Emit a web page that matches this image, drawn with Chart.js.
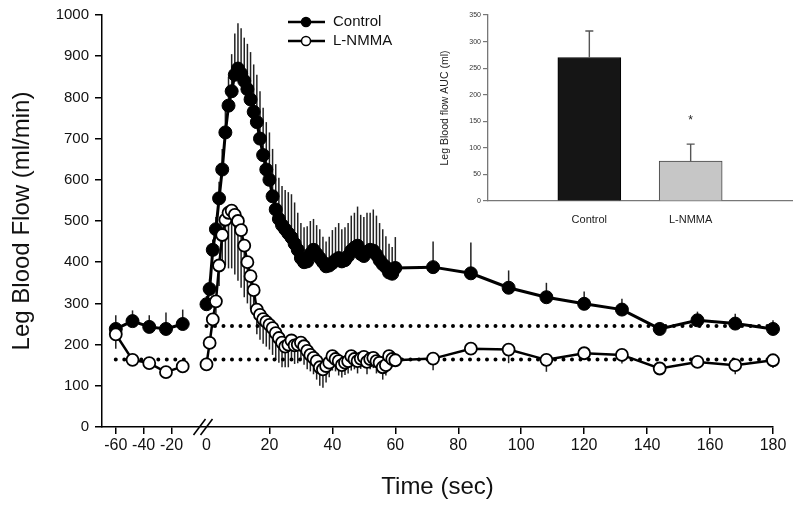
<!DOCTYPE html>
<html>
<head>
<meta charset="utf-8">
<script src="https://cdn.jsdelivr.net/npm/chart.js@4.4.0/dist/chart.umd.min.js"></script>
<style>
  html, body { margin: 0; padding: 0; background: #fff; }
  #wrap { position: relative; width: 800px; height: 506px; }
  #mainChart { position: absolute; left: 0; top: 0; }
  #aucChart { position: absolute; left: 430px; top: 0; }
</style>
</head>
<body>
<div id="wrap">
  <canvas id="mainChart" width="800" height="506"></canvas>
  <canvas id="aucChart" width="370" height="225"></canvas>
</div>
<script>
// time points (sec)
const preTimes = [-60, -48, -36, -24, -12];
const postTimes = [0, 1, 2, 3, 4, 5, 6, 7, 8, 9,
  10, 11, 12, 13, 14, 15, 16, 17, 18, 19,
  20, 21, 22, 23, 24, 25, 26, 27, 28, 29,
  30, 31, 32, 33, 34, 35, 36, 37, 38, 39,
  40, 41, 42, 43, 44, 45, 46, 47, 48, 49,
  50, 51, 52, 53, 54, 55, 56, 57, 58, 59,
  60, 72, 84, 96, 108, 120, 132, 144, 156, 168, 180];

// leg blood flow (ml/min)
const controlPre = [238, 257, 243, 238, 250];
const controlPreSE = [33, 26, 28, 40, 35];
const lnmmaPre = [225, 163, 155, 133, 147];
const lnmmaPreSE = [35, 12, 10, 8, 10];

const controlPost = [298, 335, 430, 480, 555, 625, 715, 780, 815, 855,
  870, 858, 840, 820, 795, 765, 740, 700, 660, 625,
  600, 560, 528, 505, 490, 480, 470, 460, 445, 430,
  410, 400, 402, 420, 430, 420, 410, 400, 390, 392,
  398, 405, 410, 402, 405, 415, 428, 435, 440, 420,
  415, 425, 430, 428, 418, 405, 395, 388, 375, 372,
  386, 388, 373, 338, 315, 299, 285, 238, 259, 251, 238];
const controlPostSE = [20, 25, 25, 30, 40, 50, 60, 70, 90, 100,
  110, 110, 105, 110, 115, 115, 115, 115, 115, 115,
  115, 115, 110, 100, 95, 95, 100, 105, 100, 90,
  85, 85, 85, 80, 75, 70, 70, 62, 60, 70,
  80, 80, 85, 78, 80, 80, 85, 85, 95, 95,
  95, 95, 90, 100, 95, 90, 85, 75, 70, 65,
  75, 62, 75, 42, 35, 30, 26, 16, 21, 24, 21];

const lnmmaPost = [152, 204, 261, 305, 392, 466, 503, 520, 525, 515,
  500, 478, 440, 400, 366, 332, 285, 272, 262, 255,
  248, 240, 228, 216, 205, 195, 200, 210, 198, 200,
  205, 196, 185, 175, 168, 160, 145, 140, 148, 156,
  172, 165, 160, 150, 156, 160, 172, 165, 160, 166,
  170, 158, 165, 168, 160, 156, 145, 150, 172, 165,
  162, 166, 190, 188, 163, 179, 175, 142, 158, 150, 162];
const lnmmaPostSE = [5, 10, 20, 30, 50, 80, 110, 135, 140, 145,
  145, 140, 125, 100, 80, 60, 60, 60, 60, 60,
  60, 65, 65, 60, 60, 50, 55, 50, 45, 45,
  40, 45, 45, 40, 40, 45, 45, 45, 40, 35,
  35, 30, 35, 30, 30, 30, 35, 25, 30, 25,
  25, 30, 25, 25, 30, 25, 30, 25, 35, 20,
  15, 28, 8, 33, 29, 8, 21, 5, 8, 22, 19];

const controlBaseline = 245;
const lnmmaBaseline = 164;
const xTickLabels = [-60, -40, -20, 0, 20, 40, 60, 80, 100, 120, 140, 160, 180];

// inset: area under the curve
const aucLabels = ['Control', 'L-NMMA'];
const aucValues = [270, 75];
const aucErrors = [50, 32];
const aucMarks = ['', '*'];

Chart.defaults.font.family = "'Liberation Sans', Arial, sans-serif";
Chart.defaults.color = '#111';

// the baseline period is drawn on a compressed time scale left of the break
const preScale = 0.443, preShift = -2.24;
const xMap = (t) => (t >= 0 ? t : preShift + preScale * t);

const buildSeries = (pre, post) =>
  preTimes.map((t, i) => ({ x: xMap(t), y: pre[i] }))
    .concat([{ x: xMap(-6), y: null }])
    .concat(postTimes.map((t, i) => ({ x: xMap(t), y: post[i] })));

const buildErrors = (pre, post) => pre.concat([null]).concat(post);

const drawErrorBars = (chart, layer) => {
  const ctx = chart.ctx;
  chart.data.datasets.forEach((ds, i) => {
    if (!ds.errorBars || (ds.errorLayer || 'back') !== layer) return;
    const meta = chart.getDatasetMeta(i);
    const yScale = chart.scales[meta.yAxisID];
    const values = ds.data.map(d => (d !== null && typeof d === 'object') ? d.y : d);
    ctx.save();
    ctx.strokeStyle = ds.errorColor || '#222';
    ctx.lineWidth = ds.errorWidth || 1.5;
    meta.data.forEach((el, j) => {
      const v = values[j];
      const e = ds.errorBars[j];
      if (v === null || v === undefined || !e) return;
      const yEnd = yScale.getPixelForValue(v + ds.errorDir * e);
      ctx.beginPath();
      ctx.moveTo(el.x, el.y);
      ctx.lineTo(el.x, yEnd);
      if (ds.errorCap) {
        ctx.moveTo(el.x - ds.errorCap, yEnd);
        ctx.lineTo(el.x + ds.errorCap, yEnd);
      }
      ctx.stroke();
    });
    ctx.restore();
  });
};

const errorBarPlugin = {
  id: 'errorBars',
  beforeDatasetsDraw(chart) { drawErrorBars(chart, 'back'); },
  afterDatasetsDraw(chart) { drawErrorBars(chart, 'front'); }
};

const legendPlugin = {
  id: 'lineLegend',
  afterDraw(chart) {
    const ctx = chart.ctx;
    const items = [
      { text: 'Control', fill: '#000', y: 22 },
      { text: 'L-NMMA', fill: '#fff', y: 41 }
    ];
    ctx.save();
    items.forEach(it => {
      ctx.strokeStyle = '#000';
      ctx.lineWidth = 2.5;
      ctx.beginPath();
      ctx.moveTo(288, it.y);
      ctx.lineTo(325, it.y);
      ctx.stroke();
      ctx.beginPath();
      ctx.arc(306, it.y, 4.5, 0, Math.PI * 2);
      ctx.fillStyle = it.fill;
      ctx.fill();
      ctx.lineWidth = 1.5;
      ctx.stroke();
      ctx.fillStyle = '#111';
      ctx.font = "15px 'Liberation Sans', Arial, sans-serif";
      ctx.textBaseline = 'middle';
      ctx.fillText(it.text, 333, it.y);
    });
    ctx.restore();
  }
};

const breakPlugin = {
  id: 'axisBreak',
  afterDraw(chart) {
    const xs = chart.scales.x;
    const x0 = xs.getPixelForValue(0) - 3;
    const y0 = xs.top;
    const ctx = chart.ctx;
    ctx.save();
    ctx.strokeStyle = '#000';
    ctx.lineWidth = 1.6;
    [-4, 3].forEach(dx => {
      ctx.beginPath();
      ctx.moveTo(x0 + dx - 6, y0 + 8);
      ctx.lineTo(x0 + dx + 6, y0 - 8);
      ctx.stroke();
    });
    ctx.restore();
  }
};

const dotted = (points) => ({
  data: points,
  borderColor: '#000',
  borderWidth: 4,
  borderDash: [0, 8.5],
  borderCapStyle: 'round',
  pointRadius: 0,
  clip: false,
  order: 2
});

new Chart(document.getElementById('mainChart'), {
  type: 'line',
  data: {
    datasets: [
      {
        label: 'Control',
        data: buildSeries(controlPre, controlPost),
        errorBars: buildErrors(controlPreSE, controlPostSE),
        errorDir: 1,
        borderColor: '#000',
        borderWidth: 3,
        pointRadius: 6.5,
        pointBackgroundColor: '#000',
        pointBorderColor: '#000',
        pointBorderWidth: 1,
        tension: 0,
        clip: false,
        order: 1
      },
      {
        label: 'L-NMMA',
        data: buildSeries(lnmmaPre, lnmmaPost),
        errorBars: buildErrors(lnmmaPreSE, lnmmaPostSE),
        errorDir: -1,
        borderColor: '#000',
        borderWidth: 2.5,
        pointRadius: 6,
        pointBackgroundColor: '#fff',
        pointBorderColor: '#000',
        pointBorderWidth: 1.8,
        tension: 0,
        clip: false,
        order: 0
      },
      dotted([{ x: xMap(-60), y: lnmmaBaseline }, { x: xMap(-10), y: lnmmaBaseline }]),
      dotted([{ x: xMap(0), y: controlBaseline }, { x: 180, y: controlBaseline }]),
      dotted([{ x: xMap(0), y: lnmmaBaseline }, { x: 180, y: lnmmaBaseline }])
    ]
  },
  options: {
    responsive: false,
    animation: false,
    layout: { padding: { left: 0, top: 13.5, right: 27, bottom: 0 } },
    plugins: { legend: { display: false }, tooltip: { enabled: false } },
    scales: {
      x: {
        type: 'linear',
        min: -33.2,
        max: 180,
        afterBuildTicks: (s) => { s.ticks = xTickLabels.map(t => ({ value: xMap(t) })); },
        ticks: {
          autoSkip: false,
          maxRotation: 0,
          callback: (v, i) => xTickLabels[i],
          font: { size: 16 },
          color: '#111',
          padding: 2
        },
        grid: {
          drawOnChartArea: false,
          tickLength: 7,
          lineWidth: 1.5,
          color: '#000',
          tickColor: (c) => (c.tick && c.tick.value === 0 ? 'rgba(0,0,0,0)' : '#000')
        },
        border: { color: '#000', width: 1.5 },
        title: { display: true, text: 'Time (sec)', font: { size: 24 }, color: '#111', padding: { top: 0, bottom: 4 } },
        afterFit: (s) => { s.height = 79; }
      },
      y: {
        min: 0,
        max: 1000,
        ticks: { stepSize: 100, font: { size: 15 }, color: '#111', padding: 6, callback: (v) => String(v) },
        grid: { drawOnChartArea: false, tickLength: 7, lineWidth: 1.5, color: '#000' },
        border: { color: '#000', width: 1.5 },
        title: { display: true, text: 'Leg Blood Flow (ml/min)', font: { size: 24 }, color: '#111', padding: { top: 8, bottom: 0 } },
        afterFit: (s) => { s.width = 102; }
      }
    }
  },
  plugins: [errorBarPlugin, legendPlugin, breakPlugin]
});

const starPlugin = {
  id: 'aucStars',
  afterDatasetsDraw(chart) {
    const meta = chart.getDatasetMeta(0);
    const ys = chart.scales.y;
    const ctx = chart.ctx;
    ctx.save();
    ctx.fillStyle = '#222';
    ctx.font = "12px 'Liberation Sans', Arial, sans-serif";
    ctx.textAlign = 'center';
    ctx.textBaseline = 'middle';
    aucMarks.forEach((m, i) => {
      if (!m) return;
      const el = meta.data[i + 1];
      ctx.fillText(m, el.x, ys.getPixelForValue(aucValues[i] + aucErrors[i]) - 23);
    });
    ctx.restore();
  }
};

new Chart(document.getElementById('aucChart'), {
  type: 'bar',
  data: {
    labels: [''].concat(aucLabels, ['']),
    datasets: [{
      data: [null].concat(aucValues, [null]),
      backgroundColor: ['#000', '#151515', '#c6c6c6', '#000'],
      borderColor: ['#000', '#000', '#444', '#000'],
      borderWidth: 1,
      barThickness: 63,
      errorBars: [null].concat(aucErrors, [null]),
      errorDir: 1,
      errorCap: 4,
      errorColor: '#555',
      errorWidth: 1.4,
      errorLayer: 'front'
    }]
  },
  options: {
    responsive: false,
    animation: false,
    layout: { padding: { left: 0, top: 15, right: 8, bottom: 0 } },
    plugins: { legend: { display: false }, tooltip: { enabled: false } },
    scales: {
      x: {
        offset: false,
        grid: { display: false },
        border: { color: '#777', width: 1.3 },
        ticks: { font: { size: 11 }, color: '#222', padding: 4, autoSkip: false, maxRotation: 0 },
        afterFit: (s) => { s.height = 24; }
      },
      y: {
        min: 0,
        max: 350,
        ticks: { stepSize: 50, font: { size: 7 }, color: '#333', padding: 2 },
        grid: { drawOnChartArea: false, tickLength: 5, lineWidth: 1.2, color: '#777' },
        border: { color: '#777', width: 1.3 },
        title: { display: true, text: 'Leg Blood flow AUC (ml)', font: { size: 10.5 }, color: '#222', padding: { top: 9, bottom: 0 } },
        afterFit: (s) => { s.width = 58; }
      }
    }
  },
  plugins: [errorBarPlugin, starPlugin]
});
</script>
</body>
</html>
